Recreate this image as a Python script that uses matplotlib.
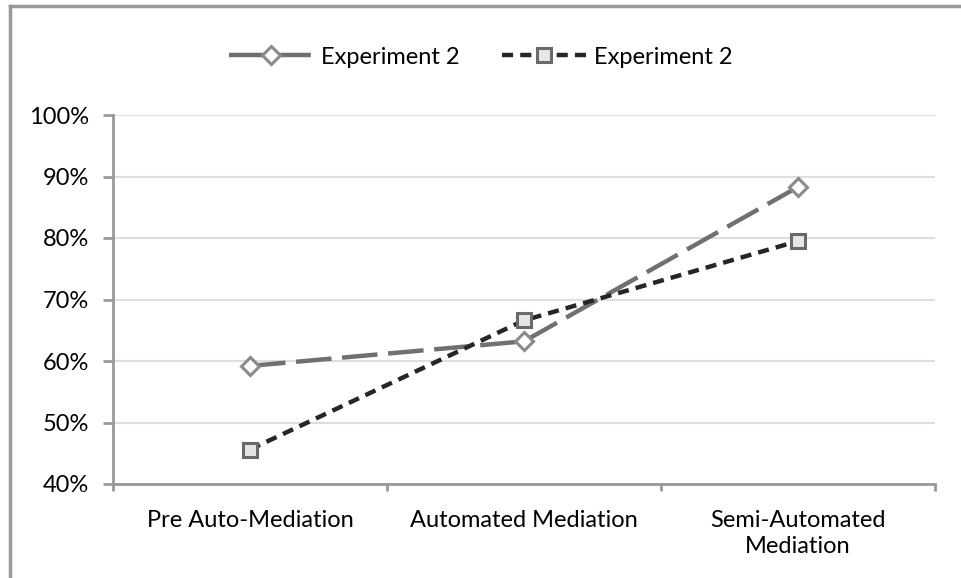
import matplotlib.pyplot as plt
from matplotlib.lines import Line2D
from matplotlib.ticker import FixedLocator, PercentFormatter

categories = ["Pre Auto-Mediation", "Automated Mediation", "Semi-Automated\nMediation"]
series_a = [59.2, 63.2, 88.3]
series_b = [45.6, 66.6, 79.5]
labels = ["Experiment 2", "Experiment 2"]

plt.rcParams["font.family"] = ["Lato", "DejaVu Sans"]

fig = plt.figure(figsize=(9.61, 5.78), dpi=100)
ax = fig.add_axes([113 / 961, 1 - 484 / 578, (935 - 113) / 961, (484 - 115) / 578])

# outer frame (only left and top edges visible)
fig.add_artist(Line2D([10 / 961, 10 / 961], [0, 1 - 5.5 / 578], color="#999999", lw=2.5,
                      transform=fig.transFigure))
fig.add_artist(Line2D([10 / 961, 1], [1 - 5.5 / 578, 1 - 5.5 / 578], color="#999999", lw=2.5,
                      transform=fig.transFigure))

x = range(len(categories))
ax.plot(x, series_a, color="#707070", lw=3.2, dashes=(8, 2.4), marker="D", ms=9.5,
        mfc="white", mec="#8a8a8a", mew=2.2, label=labels[0], zorder=3)
ax.plot(x, series_b, color="#262626", lw=3.2, dashes=(2.5, 1.6), marker="s", ms=10,
        mfc="#e6e6e6", mec="#6a6a6a", mew=2.2, label=labels[1], zorder=4)

ax.set_xlim(-0.5, 2.5)
ax.set_ylim(40, 100)
ax.set_yticks(range(40, 101, 10))
ax.yaxis.set_major_formatter(PercentFormatter(decimals=0))
ax.yaxis.grid(True, color="#dedede", lw=1.5)
ax.set_axisbelow(True)

ax.set_xticks(list(x))
ax.set_xticklabels(categories, linespacing=1.3)
ax.xaxis.set_minor_locator(FixedLocator([-0.5, 0.5, 1.5, 2.5]))
ax.tick_params(axis="x", which="major", length=0, pad=19, labelsize=17)
ax.tick_params(axis="x", which="minor", length=5, width=2, color="#999999")
ax.tick_params(axis="y", length=7, width=2, color="#999999", labelsize=17, pad=10)

for side in ["top", "right"]:
    ax.spines[side].set_visible(False)
for side in ["left", "bottom"]:
    ax.spines[side].set_color("#999999")
    ax.spines[side].set_linewidth(2)

fig.legend(loc="center", bbox_to_anchor=(0.5, 1 - 57 / 578), ncol=2, frameon=False,
           fontsize=17, handlelength=3.6, columnspacing=1.8, handletextpad=0.3)

fig.savefig("out.png", dpi=100)
